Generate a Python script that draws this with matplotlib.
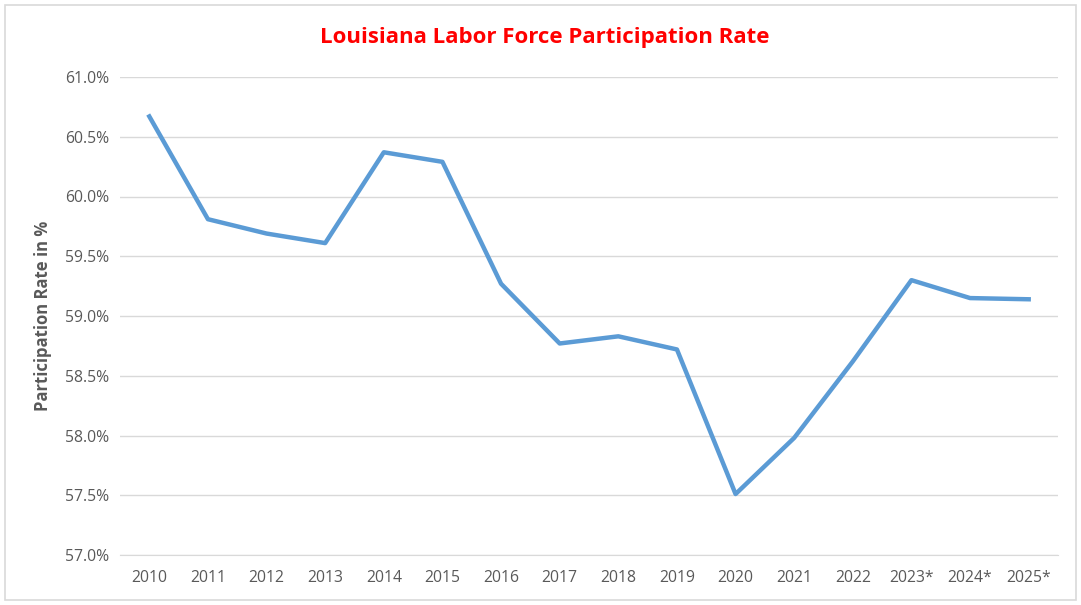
import matplotlib.pyplot as plt
from matplotlib.ticker import FuncFormatter
from matplotlib.patches import Rectangle

years = ['2010', '2011', '2012', '2013', '2014', '2015', '2016', '2017',
         '2018', '2019', '2020', '2021', '2022', '2023*', '2024*', '2025*']
rate = [60.67, 59.81, 59.69, 59.61, 60.37, 60.29, 59.27, 58.77,
        58.83, 58.72, 57.51, 57.98, 58.62, 59.30, 59.15, 59.14]

plt.rcParams['font.family'] = ['Open Sans', 'DejaVu Sans']

fig = plt.figure(figsize=(10.81, 6.05), dpi=100)
ax = fig.add_axes([120/1081, 1 - 555/605, (1058-120)/1081, (555-77)/605])

x = range(len(years))
ax.plot(x, rate, color='#5b9bd5', linewidth=3.2, solid_joinstyle='round')

ax.set_ylim(57.0, 61.0)
ax.set_xlim(-0.5, len(years) - 0.5)
ax.set_yticks([57.0, 57.5, 58.0, 58.5, 59.0, 59.5, 60.0, 60.5, 61.0])
ax.yaxis.set_major_formatter(FuncFormatter(lambda v, p: '%.1f%%' % v))
ax.set_xticks(list(x))
ax.set_xticklabels(years)
ax.grid(axis='y', color='#d9d9d9', linewidth=1)
ax.set_axisbelow(True)
for s in ['top', 'right', 'left']:
    ax.spines[s].set_visible(False)
ax.spines['bottom'].set_color('#d9d9d9')
ax.tick_params(length=0, labelsize=11.3, labelcolor='#595959')
ax.tick_params(axis='x', pad=11)
ax.tick_params(axis='y', pad=8)

ax.set_ylabel('Participation Rate in %', fontsize=12, fontweight='bold',
              color='#595959', labelpad=9)
fig.text(545/1081, 1 - 38/605, 'Louisiana Labor Force Participation Rate',
         ha='center', va='center', color='#ff0000', fontsize=16, fontweight='bold')

fig.patches.append(Rectangle((5/1081, 5/605), 1071/1081, 595/605, transform=fig.transFigure,
                             fill=False, edgecolor='#d9d9d9', linewidth=1.2))

fig.savefig('out.png', dpi=100)
